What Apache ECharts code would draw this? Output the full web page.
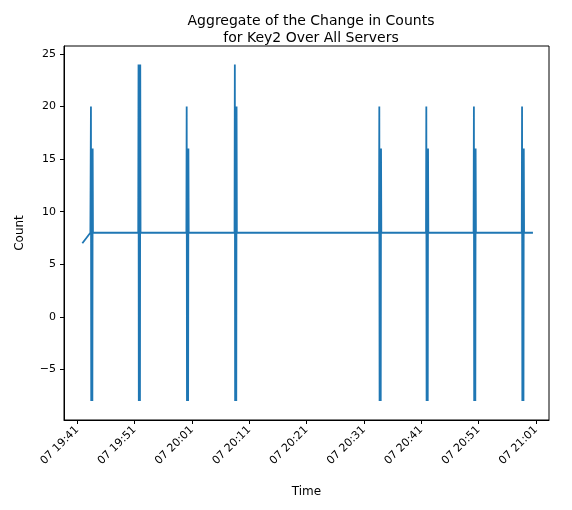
<!DOCTYPE html>
<html><head><meta charset="utf-8">
<script src="https://cdn.jsdelivr.net/npm/echarts@6/dist/echarts.min.js"></script>
<style>body{margin:0}#c{width:572px;height:510px}</style>
</head><body><div id="c"></div>
<script>
// minutes after 19:41 on day 07
var times = [0.9, 2.3,
  2.35, 2.4, 2.45, 2.5, 2.55, 2.6, 2.65, 2.7, 2.75,
  10.65, 10.7, 10.75, 10.8, 10.85, 10.9, 10.95, 11.0, 11.05,
  19.05, 19.1, 19.15, 19.2, 19.25, 19.3, 19.35, 19.4, 19.45,
  27.45, 27.5, 27.55, 27.6, 27.65, 27.7, 27.75, 27.8, 27.85,
  52.65, 52.7, 52.75, 52.8, 52.85, 52.9, 52.95, 53.0, 53.05,
  60.85, 60.9, 60.95, 61.0, 61.05, 61.1, 61.15, 61.2, 61.25,
  69.15, 69.2, 69.25, 69.3, 69.35, 69.4, 69.45, 69.5, 69.55,
  77.55, 77.6, 77.65, 77.7, 77.75, 77.8, 77.85, 77.9, 77.95,
  79.5];
var counts = [7, 8,
  8, 20, -8, 16, 0, 12, -8, 16, 8,
  8, 24, -8, 16, 0, 12, -8, 24, 8,
  8, 20, -8, 16, 0, 12, -8, 16, 8,
  8, 24, -8, 16, 0, 12, -8, 20, 8,
  8, 20, -8, 16, 0, 12, -8, 16, 8,
  8, 20, -8, 16, 0, 12, -8, 16, 8,
  8, 20, -8, 16, 0, 12, -8, 16, 8,
  8, 20, -8, 16, 0, 12, -8, 16, 8,
  8];
var xTicks = [0, 10, 20, 30, 40, 50, 60, 70, 80];
var yTicks = [-5, 0, 5, 10, 15, 20, 25];

function lab(m){
  var t = 19*60 + 41 + m, h = Math.floor(t/60), mm = t % 60;
  return '07 ' + h + ':' + (mm < 10 ? '0' : '') + mm;
}
var pts = times.map(function(t, i){ return [t, counts[i]]; });
var font = 'DejaVu Sans';
var chart = echarts.init(document.getElementById('c'));
chart.setOption({
  animation: false,
  textStyle: {fontFamily: font},
  title: {text: 'Aggregate of the Change in Counts\nfor Key2 Over All Servers', left: 306, top: 8, textAlign: 'center',
    textStyle: {fontSize: 14, fontWeight: 'normal', color: '#000', lineHeight: 17, fontFamily: font}},
  grid: {left: 64, right: 23, top: 46, bottom: 90},
  xAxis: {type: 'value', min: -2.3, max: 82.3, name: 'Time', nameLocation: 'middle', nameGap: 66,
    nameTextStyle: {color: '#000', fontSize: 12},
    axisLine: {onZero: false, lineStyle: {color: '#000'}},
    axisTick: {customValues: xTicks, length: 4, lineStyle: {color: '#000'}},
    axisLabel: {customValues: xTicks, rotate: 45, color: '#000', fontSize: 11, formatter: lab, margin: 8},
    splitLine: {show: false}},
  yAxis: {type: 'value', min: -9.8, max: 25.75, name: 'Count', nameLocation: 'middle', nameGap: 38,
    nameTextStyle: {color: '#000', fontSize: 12},
    axisLine: {show: true, onZero: false, lineStyle: {color: '#000'}},
    axisTick: {show: true, customValues: yTicks, length: 4, lineStyle: {color: '#000'}},
    axisLabel: {customValues: yTicks, color: '#000', fontSize: 11,
      formatter: function(v){ return String(v).replace('-', '\u2212'); }},
    splitLine: {show: false}},
  series: [{type: 'line', data: pts, showSymbol: false, lineStyle: {color: '#1f77b4', width: 1.8}}]
});
// right and top frame
chart.setOption({graphic: [{type: 'rect', shape: {x: 64, y: 46, width: 485, height: 374},
  style: {fill: 'none', stroke: '#000', lineWidth: 1}, silent: true}]});
</script></body></html>
